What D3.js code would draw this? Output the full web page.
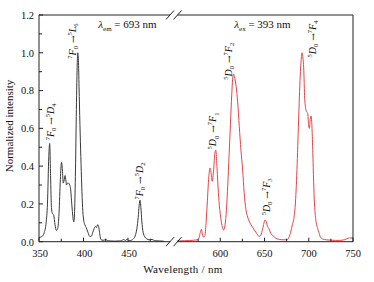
<!DOCTYPE html>
<html><head><meta charset="utf-8">
<script src="https://cdn.jsdelivr.net/npm/d3@7"></script>
<style>body{margin:0;background:#fff}svg{display:block}text{font-family:"Liberation Serif","Times New Roman",serif;fill:#111}</style>
</head><body><svg id="c" width="374" height="282"></svg>
<script>
// Excitation spectrum (λem = 693 nm)
const excWavelength = [350,352,354,356,358,359.5,361,362,363,364,365,366.5,368,369.5,371,372.5,374,375.3,376.3,377.2,378,379.3,380.3,381,382,383,384.5,385.5,386.5,387.5,388.5,389.2,390,391,392,393,393.6,394.3,395,396,397,398,399,400,401.5,403,405,407,409,410.5,412,413.5,414.5,416,417,418,419,420.5,423,425,427,430,435,440,443,445,447,449,451,454,456,458,460,461.5,462.5,463.5,464.5,465.5,467,469,471,474,477,480,485,490];
const excIntensity = [0.02,0.025,0.03,0.05,0.10,0.2,0.45,0.52,0.35,0.18,0.15,0.14,0.09,0.06,0.07,0.15,0.33,0.42,0.38,0.31,0.32,0.35,0.32,0.30,0.31,0.31,0.30,0.28,0.22,0.16,0.115,0.105,0.16,0.38,0.70,0.95,1.0,0.96,0.82,0.62,0.45,0.30,0.18,0.12,0.09,0.075,0.05,0.028,0.03,0.05,0.07,0.08,0.075,0.09,0.08,0.05,0.02,0.008,0.008,0.012,0.006,0.004,0.003,0.004,0.006,0.012,0.006,0.014,0.005,0.008,0.015,0.03,0.07,0.13,0.19,0.22,0.18,0.11,0.05,0.025,0.015,0.01,0.012,0.005,0.004,0.003];
// Emission spectrum (λex = 393 nm)
const emWavelength = [551,555,560,565,570,574,576,577.5,578.7,580,581,582.5,584,585.5,587,588.5,589.5,591,592.5,594,595,596,597.5,599,600.5,602,603.8,605.5,607,608.5,610,611.5,613,614,615,616.5,618,619.7,621.5,623.4,625.3,627,629,631,633,636,638.5,641,644,646,648,650.7,652,653.5,655,657,660,663,667,672,676,679.5,681.5,683.2,685,686.9,688.7,690.6,691.8,692.5,693.5,694.3,695.4,697.3,698.8,699.8,700.7,701.7,702.6,703.7,704.6,705.5,706.5,707.4,708.5,710,711.5,713,716,720,725,730,735,740,743,746,750];
const emIntensity = [0.004,0.005,0.005,0.006,0.008,0.01,0.02,0.05,0.065,0.035,0.025,0.03,0.1,0.22,0.34,0.39,0.37,0.32,0.38,0.47,0.485,0.42,0.29,0.19,0.13,0.085,0.062,0.09,0.17,0.30,0.46,0.62,0.78,0.86,0.887,0.865,0.82,0.74,0.61,0.485,0.38,0.26,0.17,0.13,0.105,0.08,0.062,0.045,0.028,0.035,0.07,0.115,0.105,0.08,0.07,0.045,0.03,0.018,0.012,0.01,0.012,0.05,0.09,0.124,0.21,0.41,0.67,0.90,0.98,1.0,0.97,0.92,0.76,0.69,0.68,0.62,0.60,0.65,0.665,0.60,0.47,0.32,0.20,0.14,0.10,0.07,0.05,0.026,0.014,0.01,0.008,0.007,0.007,0.01,0.015,0.02,0.02];

const xTicksLeft = [350,400,450];
const xMinorLeft = [375,425,475];
const xTicksRight = [600,650,700,750];
const xMinorRight = [575,625,675,725];
const yTicks = [0,0.2,0.4,0.6,0.8,1.0,1.2];
const yMinor = [0.1,0.3,0.5,0.7,0.9,1.1];
const yTickLabels = ["0.0","0.2","0.4","0.6","0.8","1.0","1.2"];

// annotation texts: [wavelength, intensity, parts]
const excLabels = [
  [362.4, 0.634, [["7","sup"],["F","i"],["0","sub"],["\u2192","arr"],["5","sup"],["D","i"],["4","sub"]]],
  [387.1, 1.062, [["7","sup"],["F","i"],["0","sub"],["\u2192","arr"],["5","sup"],["L","i"],["6","sub"]]],
  [462.4, 0.321, [["7","sup"],["F","i"],["0","sub"],["\u2192","arr"],["5","sup"],["D","i"],["2","sub"]]]
];
const emLabels = [
  [591.8, 0.586, [["5","sup"],["D","i"],["0","sub"],["\u2192","arr"],["7","sup"],["F","i"],["1","sub"]]],
  [608.8, 0.955, [["5","sup"],["D","i"],["0","sub"],["\u2192","arr"],["7","sup"],["F","i"],["2","sub"]]],
  [651.7, 0.237, [["5","sup"],["D","i"],["0","sub"],["\u2192","arr"],["7","sup"],["F","i"],["3","sub"]]],
  [703.7, 1.073, [["5","sup"],["D","i"],["0","sub"],["\u2192","arr"],["7","sup"],["F","i"],["4","sub"]]]
];

const svg = d3.select("#c");
const x0 = 39, xB1 = 172.5, xB2 = 176, x1 = 353;
const xL = d3.scaleLinear().domain([350,500]).range([x0,xB1]);
const xR = d3.scaleLinear().domain([550,750]).range([xB2,x1]);
const y = d3.scaleLinear().domain([0,1.2]).range([241.7,15]);
const axisCol = "#222";

// curves
const excData = excWavelength.map((w,i)=>[w,excIntensity[i]]);
const emData = emWavelength.map((w,i)=>[w,emIntensity[i]]);
svg.append("path").datum(excData)
  .attr("d", d3.line().x(d=>xL(d[0])).y(d=>y(d[1])).curve(d3.curveMonotoneX))
  .attr("fill","none").attr("stroke","#3a3a3a").attr("stroke-width",1);
svg.append("path").datum(emData)
  .attr("d", d3.line().x(d=>xR(d[0])).y(d=>y(d[1])).curve(d3.curveMonotoneX))
  .attr("fill","none").attr("stroke","#e2454b").attr("stroke-width",1);

// frame
const yb = y(0), yt = y(1.2);
const g = svg.append("g").attr("stroke",axisCol).attr("stroke-width",1).attr("fill","none");
g.append("line").attr("x1",x0).attr("x2",x0).attr("y1",yt).attr("y2",yb);
g.append("line").attr("x1",x1).attr("x2",x1).attr("y1",yt).attr("y2",yb);
[yb,yt].forEach(yy=>{
  g.append("line").attr("x1",x0).attr("x2",170).attr("y1",yy).attr("y2",yy);
  g.append("line").attr("x1",177.5).attr("x2",x1).attr("y1",yy).attr("y2",yy);
  [170,177.5].forEach(cx=>{
    g.append("line").attr("x1",cx-4).attr("y1",yy+4.5).attr("x2",cx+4).attr("y2",yy-4.5);
  });
});

// x ticks (inward)
xTicksLeft.forEach(v=>g.append("line").attr("x1",xL(v)).attr("x2",xL(v)).attr("y1",yb).attr("y2",yb-4));
xMinorLeft.forEach(v=>g.append("line").attr("x1",xL(v)).attr("x2",xL(v)).attr("y1",yb).attr("y2",yb-3));
xTicksRight.forEach(v=>g.append("line").attr("x1",xR(v)).attr("x2",xR(v)).attr("y1",yb).attr("y2",yb-4));
xMinorRight.forEach(v=>g.append("line").attr("x1",xR(v)).attr("x2",xR(v)).attr("y1",yb).attr("y2",yb-3));
// y ticks
yTicks.forEach(v=>g.append("line").attr("x1",x0).attr("x2",x0+4).attr("y1",y(v)).attr("y2",y(v)));
yMinor.forEach(v=>g.append("line").attr("x1",x0).attr("x2",x0+3).attr("y1",y(v)).attr("y2",y(v)));

// tick labels
const fs = 10.5;
xTicksLeft.forEach(v=>svg.append("text").attr("x",xL(v)+1).attr("y",yb+15).attr("text-anchor","middle").attr("font-size",fs).text(v));
xTicksRight.forEach(v=>svg.append("text").attr("x",xR(v)).attr("y",yb+15).attr("text-anchor","middle").attr("font-size",fs).text(v));
yTicks.forEach((v,i)=>svg.append("text").attr("x",x0-5).attr("y",y(v)+3.8).attr("text-anchor","end").attr("font-size",fs).text(yTickLabels[i]));

// axis titles
svg.append("text").attr("x",183).attr("y",273).attr("text-anchor","middle").attr("font-size",11).attr("letter-spacing",0.3).text("Wavelength / nm");
svg.append("text").attr("transform","translate(13,126) rotate(-90)").attr("text-anchor","middle").attr("font-size",11).text("Normalized intensity");

// rotated annotations
function term(px, py, parts){
  const t = svg.append("text").attr("transform",`translate(${px+3.5},${py}) rotate(-90)`)
    .attr("text-anchor","middle").attr("font-size",10);
  let off = 0;
  parts.forEach(([s,k])=>{
    let target = 0, size = 10;
    if(k==="sup"){target=-4; size=6.5;}
    if(k==="sub"){target=2.5; size=6.5;}
    const ts = t.append("tspan").attr("dy",target-off).attr("font-size",size).text(s);
    if(k==="i") ts.attr("font-style","italic");
    if(k==="arr") ts.attr("font-family","DejaVu Serif").attr("font-size",9).attr("dx",3);
    if(k==="sup" && off!==0) ts.attr("dx",3);
    off = target;
  });
  if(off!==0) t.append("tspan").attr("dy",-off).text("");
}
excLabels.forEach(([w,v,p])=>term(xL(w),y(v),p));
emLabels.forEach(([w,v,p])=>term(xR(w),y(v),p));

// lambda labels
function lam(px, py, sub, val){
  const t = svg.append("text").attr("x",px).attr("y",py).attr("text-anchor","middle").attr("font-size",11);
  t.append("tspan").attr("font-style","italic").text("\u03bb");
  t.append("tspan").attr("font-size",7).attr("dy",3).text(sub);
  t.append("tspan").attr("dy",-3).text(" = "+val+" nm");
}
lam(xL(449.4), y(1.131), "em", 693);
lam(xR(647.7), y(1.131), "ex", 393);
</script>
</body></html>
